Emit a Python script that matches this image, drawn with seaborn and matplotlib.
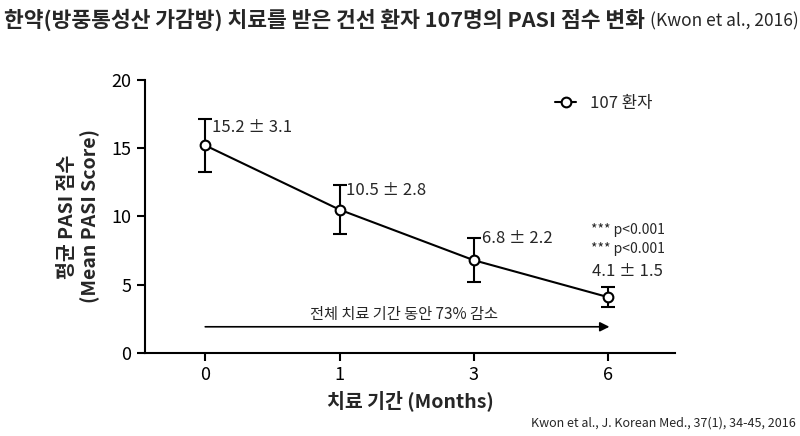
import matplotlib
matplotlib.use("Agg")
import matplotlib.pyplot as plt
import seaborn as sns
import pandas as pd
import numpy as np

# data
months = ["0", "1", "3", "6"]
mean_pasi = [15.2, 10.5, 6.8, 4.1]
err_bar = [1.95, 1.8, 1.6, 0.75]
label_sd = ["15.2 ± 3.1", "10.5 ± 2.8", "6.8 ± 2.2", "4.1 ± 1.5"]
y_ticks = [0, 5, 10, 15, 20]

sns.set_theme(style="ticks")
plt.rcParams['font.family'] = ['Noto Sans CJK KR', 'DejaVu Sans']
plt.rcParams['axes.unicode_minus'] = False

fig = plt.figure(figsize=(8, 4.36), dpi=100)
ax = fig.add_axes([0.181, 0.190, 0.663, 0.627])

pos = np.arange(len(months))
df = pd.DataFrame({"pos": pos, "mean": mean_pasi, "err": err_bar})

ax.errorbar(df["pos"], df["mean"], yerr=df["err"], fmt="none", ecolor="black",
            elinewidth=1.5, capsize=5, capthick=1.5, zorder=2)
sns.lineplot(data=df, x="pos", y="mean", ax=ax, color="black", linewidth=1.5,
             marker="o", markersize=7, markerfacecolor="white",
             markeredgecolor="black", markeredgewidth=1.5, label="107 환자",
             zorder=3)

ax.set_xlim(-0.45, 3.5)
ax.set_ylim(0, 20)
ax.set_xticks(pos)
ax.set_xticklabels(months)
ax.set_yticks(y_ticks)
ax.tick_params(axis="both", labelsize=13, width=1.5, length=6, direction="out", colors="black")
for s in ["top", "right"]:
    ax.spines[s].set_visible(False)
for s in ["left", "bottom"]:
    ax.spines[s].set_linewidth(1.5)
    ax.spines[s].set_color("black")

ax.set_xlabel("치료 기간 (Months)", fontsize=14, fontweight="bold", labelpad=4)
ax.set_ylabel("평균 PASI 점수\n(Mean PASI Score)", fontsize=14, fontweight="bold", labelpad=8)

# value labels
offs = [(0.05, 1.3), (0.05, 1.4), (0.06, 1.6), (-0.12, 1.85)]
for i, (dx, dy) in enumerate(offs):
    ax.text(pos[i] + dx, mean_pasi[i] + dy, label_sd[i], fontsize=12, va="center", ha="left")

ax.text(2.87, 9.0, "*** p<0.001", fontsize=10, va="center", ha="left")
ax.text(2.87, 7.6, "*** p<0.001", fontsize=10, va="center", ha="left")

# arrow
ax.annotate("", xy=(pos[-1] + 0.01, 1.93), xytext=(pos[0], 1.93),
            arrowprops=dict(arrowstyle="-|>", color="black", lw=1.2, mutation_scale=14,
                            shrinkA=0, shrinkB=0))
ax.text(1.48, 2.8, "전체 치료 기간 동안 73% 감소", fontsize=11, ha="center", va="center")

leg = ax.legend(loc="upper right", bbox_to_anchor=(0.985, 1.0), frameon=False,
                fontsize=12, handlelength=1.3, handletextpad=0.8)

t1 = fig.text(0.005, 0.955, "한약(방풍통성산 가감방) 치료를 받은 건선 환자 107명의 PASI 점수 변화",
              fontsize=15.5, fontweight="bold", ha="left", va="center")
fig.canvas.draw()
bb = t1.get_window_extent(renderer=fig.canvas.get_renderer())
x_end = bb.x1 / fig.bbox.width
fig.text(x_end + 0.006, 0.952, "(Kwon et al., 2016)", fontsize=12.5, ha="left", va="center")
fig.text(0.995, 0.03, "Kwon et al., J. Korean Med., 37(1), 34-45, 2016",
         fontsize=9, ha="right", va="center")

fig.savefig("out.png", dpi=100)
